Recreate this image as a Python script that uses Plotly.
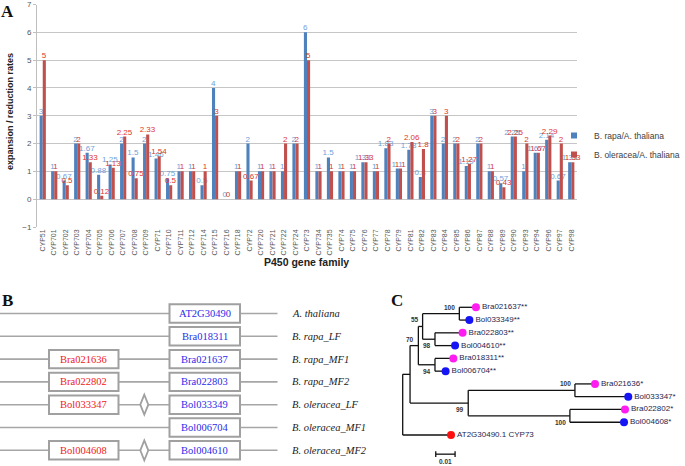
import plotly.graph_objects as go

W, H = 685, 466

# ---------------- Panel A data ----------------
families = ["CYP51", "CYP701", "CYP702", "CYP703", "CYP704", "CYP705", "CYP706", "CYP707",
            "CYP708", "CYP709", "CYP71", "CYP710", "CYP711", "CYP712", "CYP714", "CYP715",
            "CYP716", "CYP718", "CYP72", "CYP720", "CYP721", "CYP722", "CYP724", "CYP73",
            "CYP734", "CYP735", "CYP74", "CYP75", "CYP76", "CYP77", "CYP78", "CYP79",
            "CYP81", "CYP82", "CYP83", "CYP84", "CYP85", "CYP86", "CYP87", "CYP88",
            "CYP89", "CYP90", "CYP93", "CYP94", "CYP96", "CYP97", "CYP98"]
rapa_rate = [3, 1, 0.67, 2, 1.67, 0.88, 1.25, 2, 1.5, 2, 1.46, 0.75, 1, 1, 0.5, 4,
             0, 1, 2, 1, 1, 1, 2, 6, 1, 1.5, 1, 1, 1.33, 1, 1.83, 1.1,
             1.78, 0.8, 3, 2, 2, 1.19, 2, 1, 0.57, 2.25, 1, 1.67, 2.14, 0.67, 1.33]
oleracea_rate = [5, 1, 0.5, 2, 1.33, 0.12, 1.13, 2.25, 0.75, 2.33, 1.54, 0.5, 1, 1, 1, 3,
                 0, 1, 0.67, 1, 1, 2, 2, 5, 1, 1, 1, 1, 1.33, 1, 2, 1.1,
                 2.06, 1.8, 3, 3, 2, 1.27, 2, 1, 0.43, 2.25, 2, 1.67, 2.29, 2, 1.33]
y_ticks = [-1, 0, 1, 2, 3, 4, 5, 6, 7]
series_names = ["B. rapa/A. thaliana", "B. oleracea/A. thaliana"]

# ---------------- Panel B data ----------------
gene_species = ["A. thaliana", "B. rapa_LF", "B. rapa_MF1", "B. rapa_MF2",
                "B. oleracea_LF", "B. oleracea_MF1", "B. oleracea_MF2"]
gene_main = ["AT2G30490", "Bra018311", "Bra021637", "Bra022803",
             "Bol033349", "Bol006704", "Bol004610"]
gene_extra = [None, None, "Bra021636", "Bra022802", "Bol033347", None, "Bol004608"]
gene_gap = [False, False, False, False, True, False, True]

# ---------------- Panel C data (tree) ----------------
node_name = ["root", "nB", "n70", "n55", "n100a", "n98", "n94", "n99", "n100b", "n100c",
             "Bra021637**", "Bol033349**", "Bra022803**", "Bol004610**", "Bra018311**",
             "Bol006704**", "Bra021636*", "Bol033347*", "Bra022802*", "Bol004608*",
             "AT2G30490.1 CYP73"]
node_parent = [None, "root", "nB", "n70", "n55", "n55", "n70", "nB", "n99", "n99",
               "n100a", "n100a", "n98", "n98", "n94", "n94", "n100b", "n100b",
               "n100c", "n100c", "root"]
branch_len = [0, 0.0038, 0.0043, 0.0022, 0.0190, 0.0064, 0.0086, 0.0301, 0.0552, 0.0526,
              0.0086, 0.0052, 0.0143, 0.0104, 0.0095, 0.0055, 0.0104, 0.0276, 0.0285,
              0.0280, 0.0250]
bootstrap = [None, None, "70", "55", "100", "98", "94", "99", "100", "100"] + [None] * 11
boot_side = [None, None, "above", "above", "above", "below", "below", "below", "above", "below"] + [None] * 11
scale_len = 0.01

# ---------------- colours / fonts ----------------
C_RAPA = "#4F81BD"
C_OLER = "#C0504D"
T_RAPA = "#6E9FDB"
T_OLER = "#E0352B"
SANS = "Liberation Sans, Arial, sans-serif"
SERIF = "Liberation Serif, Times New Roman, serif"

fig = go.Figure()

# ---------------- Panel A ----------------
fmt = lambda v: f"{v:g}"
fig.add_trace(go.Bar(x=families, y=rapa_rate, name=series_names[0], marker_color=C_RAPA,
                     marker_line_width=0,
                     text=[fmt(v) for v in rapa_rate], textposition="outside",
                     textfont=dict(color=T_RAPA, size=8, family=SANS),
                     constraintext="none", cliponaxis=False, showlegend=False,
                     xaxis="x", yaxis="y"))
fig.add_trace(go.Bar(x=families, y=oleracea_rate, name=series_names[1], marker_color=C_OLER,
                     marker_line_width=0,
                     text=[fmt(v) for v in oleracea_rate], textposition="outside",
                     textfont=dict(color=T_OLER, size=8, family=SANS),
                     constraintext="none", cliponaxis=False, showlegend=False,
                     xaxis="x", yaxis="y"))
# legend entries (small square swatches)
for nm, col in zip(series_names, [C_RAPA, C_OLER]):
    fig.add_trace(go.Scatter(x=[None], y=[None], mode="markers", name=nm,
                             marker=dict(symbol="square", size=6, color=col),
                             xaxis="x", yaxis="y"))

# ---------------- Panel B ----------------
ROW0, ROWSTEP = 313.5, 22.8          # pixel position of rows
LINE_X = (0, 277.5)
RED_BOX = (49, 118.5)
BLUE_BOX = (169.5, 240)
GAP_X = 144.3
BOX_HALF = 9.2 / ROWSTEP
LABEL_X = 290

shapes = []
annotations = []
for i, sp in enumerate(gene_species):
    fig.add_trace(go.Scatter(x=list(LINE_X), y=[i, i], mode="lines",
                             line=dict(color="#A6A6A6", width=1.6), showlegend=False,
                             hoverinfo="skip", xaxis="x2", yaxis="y2"))
    shapes.append(dict(type="rect", xref="x2", yref="y2", x0=BLUE_BOX[0], x1=BLUE_BOX[1],
                       y0=i - BOX_HALF, y1=i + BOX_HALF, fillcolor="white",
                       line=dict(color="#A0A0A0", width=2)))
    annotations.append(dict(x=(BLUE_BOX[0] + BLUE_BOX[1]) / 2, y=i, xref="x2", yref="y2",
                            text=gene_main[i], showarrow=False,
                            xanchor="center", yanchor="middle",
                            font=dict(family=SERIF, size=10.5, color="#2B2BE8")))
    if gene_extra[i]:
        shapes.append(dict(type="rect", xref="x2", yref="y2", x0=RED_BOX[0], x1=RED_BOX[1],
                           y0=i - BOX_HALF, y1=i + BOX_HALF, fillcolor="white",
                           line=dict(color="#A0A0A0", width=2)))
        annotations.append(dict(x=(RED_BOX[0] + RED_BOX[1]) / 2, y=i, xref="x2", yref="y2",
                                text=gene_extra[i], showarrow=False,
                                xanchor="center", yanchor="middle",
                                font=dict(family=SERIF, size=10.5, color="#F02020")))
    if gene_gap[i]:
        hw, hh = 4.0, 10.0 / ROWSTEP
        path = (f"M {GAP_X - hw},{i} L {GAP_X},{i - hh} L {GAP_X + hw},{i} "
                f"L {GAP_X},{i + hh} Z")
        shapes.append(dict(type="path", xref="x2", yref="y2", path=path, fillcolor="white",
                           line=dict(color="#A0A0A0", width=1.8)))
    annotations.append(dict(x=LABEL_X, y=i, xref="x2", yref="y2", text=f"<i>{sp}</i>",
                            showarrow=False, xanchor="left", yanchor="middle",
                            font=dict(family=SERIF, size=10.5, color="#222222")))

# ---------------- Panel C ----------------
idx = {n: k for k, n in enumerate(node_name)}
children = {n: [] for n in node_name}
for n, p in zip(node_name, node_parent):
    if p is not None:
        children[p].append(n)
xpos = {}
def set_x(n, base):
    xpos[n] = base + branch_len[idx[n]]
    for c in children[n]:
        set_x(c, xpos[n])
set_x("root", 0.0)
leaves = [n for n in node_name if not children[n]]
ypos = {n: k for k, n in enumerate(leaves)}
def set_y(n):
    if n in ypos:
        return ypos[n]
    ys = [set_y(c) for c in children[n]]
    ypos[n] = sum(ys) / len(ys)
    return ypos[n]
set_y("root")

lx, ly = [], []
for n, p in zip(node_name, node_parent):
    if p is not None:
        lx += [xpos[p], xpos[n], None]
        ly += [ypos[n], ypos[n], None]
    if children[n]:
        cy = [ypos[c] for c in children[n]]
        lx += [xpos[n], xpos[n], None]
        ly += [min(cy), max(cy), None]
fig.add_trace(go.Scatter(x=lx, y=ly, mode="lines", line=dict(color="#111111", width=1.3),
                         showlegend=False, hoverinfo="skip", xaxis="x3", yaxis="y3"))

def leaf_color(n):
    if n.startswith("Bra"):
        return "#FF1CF0"
    if n.startswith("Bol"):
        return "#1414F5"
    return "#FF1010"
fig.add_trace(go.Scatter(x=[xpos[n] for n in leaves], y=[ypos[n] for n in leaves],
                         mode="markers+text", text=leaves, textposition="middle right",
                         textfont=dict(family=SANS, size=8, color="#262650"),
                         marker=dict(size=8, color=[leaf_color(n) for n in leaves]),
                         showlegend=False, hoverinfo="skip", xaxis="x3", yaxis="y3"))
for n, b, side in zip(node_name, bootstrap, boot_side):
    if b:
        annotations.append(dict(x=xpos[n], y=ypos[n], xref="x3", yref="y3", text=f"<b>{b}</b>",
                                showarrow=False, xanchor="right",
                                yanchor="bottom" if side == "above" else "top",
                                xshift=-2, yshift=1 if side == "above" else -1,
                                font=dict(family=SANS, size=6.5, color="#333333")))
# scale bar
SB_X0, SB_Y = 0.0171, 11.5
fig.add_trace(go.Scatter(x=[SB_X0, SB_X0 + scale_len, None, SB_X0, SB_X0, None,
                            SB_X0 + scale_len, SB_X0 + scale_len],
                         y=[SB_Y, SB_Y, None, SB_Y - 0.22, SB_Y + 0.22, None,
                            SB_Y - 0.22, SB_Y + 0.22],
                         mode="lines", line=dict(color="#111111", width=1.3),
                         showlegend=False, hoverinfo="skip", xaxis="x3", yaxis="y3"))
annotations.append(dict(x=SB_X0 + scale_len / 2, y=SB_Y, xref="x3", yref="y3",
                        text="<b>0.01</b>", showarrow=False, xanchor="center",
                        yanchor="top", yshift=-2,
                        font=dict(family=SANS, size=6.5, color="#333333")))

# ---------------- panel letters and axis titles ----------------
for letter, px, py in [("A", 8, 11), ("B", 8, 300), ("C", 397, 300)]:
    annotations.append(dict(x=px / W, y=1 - py / H, xref="paper", yref="paper",
                            text=f"<b>{letter}</b>", showarrow=False,
                            xanchor="center", yanchor="middle",
                            font=dict(family=SERIF, size=17, color="#111111")))
annotations.append(dict(x=306 / W, y=1 - 262 / H, xref="paper", yref="paper",
                        text="<b>P450 gene family</b>", showarrow=False,
                        xanchor="center", yanchor="middle",
                        font=dict(family=SANS, size=10.5, color="#222222")))
annotations.append(dict(x=10 / W, y=1 - 112 / H, xref="paper", yref="paper",
                        text="<b>expansion / reduction rates</b>", showarrow=False,
                        xanchor="center", yanchor="middle",
                        textangle=-90, font=dict(family=SANS, size=9, color="#222222")))

# ---------------- axes geometry ----------------
A_L, A_R, A_T, A_B = 37, 577, 4.5, 227
B_T = 290
C_L, C_T = 395, 292
ROOT_PX, PX_PER_UNIT = 402.7, 1933.0
LEAF0_PX, LEAF_STEP = 307.3, 12.77

fig.update_layout(
    template="none",
    width=W, height=H, margin=dict(l=0, r=0, t=0, b=0, autoexpand=False),
    paper_bgcolor="white", plot_bgcolor="rgba(0,0,0,0)",
    barmode="group", bargap=0.46, bargroupgap=0,
    font=dict(family=SANS),
    showlegend=True,
    legend=dict(x=554 / W, y=1 - 121 / H, xanchor="left", yanchor="top",
                font=dict(family=SANS, size=8.5, color="#404040"),
                bgcolor="rgba(0,0,0,0)", borderwidth=0, tracegroupgap=2, itemwidth=30),
    xaxis=dict(domain=[A_L / W, A_R / W], anchor="y", type="category", automargin=False,
               tickangle=-90, tickfont=dict(family=SANS, size=7, color="#555555"),
               showgrid=False, showline=False, zeroline=False, ticks="", ticklen=0),
    yaxis=dict(domain=[1 - A_B / H, 1 - A_T / H], anchor="x", range=[-1, 7], automargin=False,
               tickvals=y_ticks, tickfont=dict(family=SANS, size=8, color="#555555"),
               showgrid=True, gridcolor="#C6C6C6", gridwidth=1, zeroline=False,
               showline=True, linecolor="#BFBFBF", linewidth=1,
               ticks="outside", ticklen=3, tickcolor="#BFBFBF"),
    xaxis2=dict(domain=[0, 300 / W], anchor="y2", range=[0, 300], visible=False,
                automargin=False),
    yaxis2=dict(domain=[0, 1 - B_T / H], anchor="x2", automargin=False,
                range=[(H - ROW0) / ROWSTEP, (B_T - ROW0) / ROWSTEP], visible=False),
    xaxis3=dict(domain=[C_L / W, 1], anchor="y3", automargin=False,
                range=[(C_L - ROOT_PX) / PX_PER_UNIT, (W - ROOT_PX) / PX_PER_UNIT],
                visible=False),
    yaxis3=dict(domain=[0, 1 - C_T / H], anchor="x3", automargin=False,
                range=[(H - LEAF0_PX) / LEAF_STEP, (C_T - LEAF0_PX) / LEAF_STEP],
                visible=False),
    shapes=shapes, annotations=annotations,
)

fig.write_html("out.html", config={"displayModeBar": False},
               post_script="document.body.style.margin='0';document.body.style.overflow='hidden';")
